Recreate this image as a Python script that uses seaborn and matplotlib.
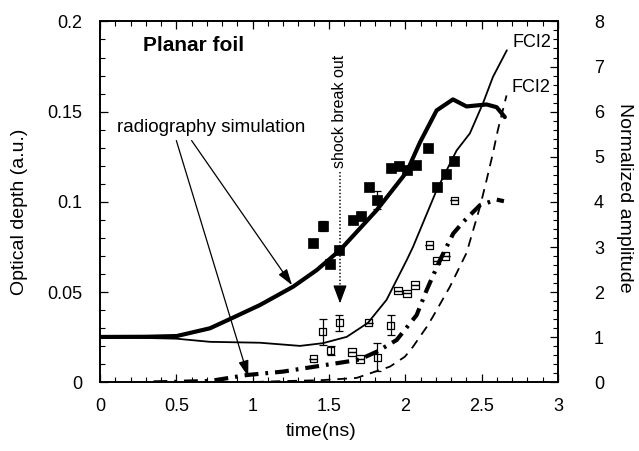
import matplotlib
matplotlib.use("Agg")
import matplotlib.pyplot as plt
from matplotlib.ticker import MultipleLocator, FuncFormatter
import seaborn as sns

# radiography simulation, optical depth (thick solid)
sim_t = [0.0, 0.3, 0.502, 0.72, 0.851, 1.048, 1.264, 1.419, 1.572, 1.812, 2.009,
         2.096, 2.205, 2.312, 2.401, 2.532, 2.598, 2.652]
sim_od = [0.0252, 0.0253, 0.0257, 0.030, 0.0351, 0.0429, 0.053, 0.0622, 0.0733,
          0.0954, 0.1166, 0.133, 0.1507, 0.1568, 0.1529, 0.154, 0.1525, 0.147]

# radiography simulation, lower curve (thick dash-dot)
sim2_t = [0.35, 0.72, 0.961, 1.198, 1.395, 1.616, 1.703, 1.812, 1.943, 2.074,
          2.14, 2.227, 2.314, 2.379, 2.489, 2.598, 2.646]
sim2_od = [0.0, 0.0008, 0.0041, 0.006, 0.0086, 0.0115, 0.0128, 0.017, 0.0235,
           0.0373, 0.0512, 0.0678, 0.0825, 0.0889, 0.0982, 0.1013, 0.1004]

# FCI2 normalized amplitude (thin solid)
fci_t = [0.0, 0.5, 0.72, 1.048, 1.31, 1.46, 1.616, 1.755, 1.877, 2.009, 2.05,
         2.205, 2.336, 2.423, 2.508, 2.574, 2.665]
fci_amp = [1.01, 0.97, 0.90, 0.88, 0.81, 0.87, 1.01, 1.32, 1.83, 2.71, 3.0,
           4.26, 5.14, 5.52, 6.18, 6.77, 7.36]

# FCI2 normalized amplitude (dashed)
fci2_t = [0.9, 1.2, 1.45, 1.681, 1.899, 1.997, 2.05, 2.14, 2.181, 2.292, 2.401,
          2.489, 2.532, 2.574, 2.606, 2.663]
fci2_amp = [0.0, 0.03, 0.05, 0.10, 0.35, 0.57, 0.79, 1.23, 1.46, 2.12, 2.87,
            3.89, 4.48, 5.08, 5.59, 6.36]

# measured optical depth, filled squares
meas1_t = [1.397, 1.458, 1.506, 1.567, 1.655, 1.707, 1.762, 1.816, 1.904, 1.956,
           2.012, 2.067, 2.146, 2.209, 2.264, 2.318]
meas1_od = [0.077, 0.0867, 0.0655, 0.0733, 0.0899, 0.0923, 0.108, 0.1009, 0.119,
            0.1199, 0.1175, 0.1203, 0.1301, 0.108, 0.1153, 0.1227]
meas1_err = [0, 0.0028, 0, 0, 0.001, 0, 0, 0.005, 0, 0, 0, 0, 0, 0, 0, 0]

# measured optical depth, open squares
meas2_t = [1.397, 1.458, 1.511, 1.567, 1.65, 1.703, 1.76, 1.816, 1.904, 1.953,
           2.012, 2.063, 2.157, 2.205, 2.264, 2.321]
meas2_od = [0.0132, 0.0281, 0.0176, 0.0331, 0.0169, 0.013, 0.0331, 0.0139, 0.0316,
            0.0508, 0.0493, 0.0539, 0.0761, 0.0674, 0.07, 0.1009]
meas2_err = [0, 0.0072, 0.0026, 0.0045, 0, 0, 0, 0.0077, 0.0055, 0, 0, 0, 0, 0, 0, 0]

sns.set_style("ticks")
plt.rcParams["font.family"] = ["Liberation Sans", "DejaVu Sans"]
plt.rcParams["lines.scale_dashes"] = False
for key in ("text.color", "axes.labelcolor", "xtick.color", "ytick.color", "axes.edgecolor"):
    plt.rcParams[key] = "black"

fig = plt.figure(figsize=(6.39, 4.51), dpi=100)
ax = fig.add_axes([0.1565, 0.152, 0.7167, 0.8005])
ax2 = ax.twinx()

# simulations on the optical depth axis
sns.lineplot(x=sim_t, y=sim_od, ax=ax, color="black", linewidth=3.0)
sns.lineplot(x=sim2_t, y=sim2_od, ax=ax, color="black", linewidth=3.0,
             linestyle=(0, (10, 5, 2, 5)))

# FCI2 curves on the amplitude axis
sns.lineplot(x=fci_t, y=fci_amp, ax=ax2, color="black", linewidth=1.3)
sns.lineplot(x=fci2_t, y=fci2_amp, ax=ax2, color="black", linewidth=1.3,
             linestyle=(0, (7, 5)))

# measurements
ax.errorbar(meas1_t, meas1_od, yerr=meas1_err, fmt="none", ecolor="black",
            elinewidth=0.9, capsize=3, capthick=0.9)
sns.scatterplot(x=meas1_t, y=meas1_od, ax=ax, marker="s", s=44, color="black",
                edgecolor="black", linewidth=0.5, zorder=4)
ax.errorbar(meas2_t, meas2_od, yerr=meas2_err, fmt="none", ecolor="black",
            elinewidth=0.9, capsize=3, capthick=0.9)
sns.scatterplot(x=meas2_t, y=meas2_od, ax=ax, marker="s", s=28, facecolor="none",
                edgecolor="black", linewidth=0.9, zorder=4)

ax.set_xlim(0, 3)
ax.set_ylim(0, 0.2)
ax2.set_ylim(0, 8)

fmt = FuncFormatter(lambda v, p: f"{v:g}")
ax.xaxis.set_major_locator(MultipleLocator(0.5))
ax.xaxis.set_minor_locator(MultipleLocator(0.1))
ax.yaxis.set_major_locator(MultipleLocator(0.05))
ax.yaxis.set_minor_locator(MultipleLocator(0.01))
ax2.yaxis.set_major_locator(MultipleLocator(1))
ax2.yaxis.set_minor_locator(MultipleLocator(0.2))
ax.xaxis.set_major_formatter(fmt)
ax.yaxis.set_major_formatter(fmt)
ax2.yaxis.set_major_formatter(fmt)

ax.tick_params(axis="x", which="both", direction="in", top=True, labelsize=13, pad=11)
ax.tick_params(axis="y", which="both", direction="in", right=False, labelsize=13, pad=13)
ax2.tick_params(axis="y", which="both", direction="in", labelsize=13, pad=26)
for a in (ax, ax2):
    a.tick_params(which="major", length=6, width=0.9)
    a.tick_params(which="minor", length=3.5, width=0.8)
    for sp in a.spines.values():
        sp.set_linewidth(1.2)
        sp.set_visible(True)

ax.set_xlabel("")
ax.set_ylabel("")
fig.text(321 / 639, 1 - 431 / 451, "time(ns)", ha="center", va="center", fontsize=14)
fig.text(20 / 639, 1 - 212 / 451, "Optical depth (a.u.)", rotation=90,
         ha="center", va="center", fontsize=14)
fig.text(625 / 639, 1 - 198 / 451, "Normalized amplitude", rotation=-90,
         ha="center", va="center", fontsize=14)

ax.text(0.616, 0.1867, "Planar foil", ha="center", va="center", fontsize=15,
        fontweight="bold")
ax.text(0.727, 0.1413, "radiography simulation", ha="center", va="center", fontsize=13.5)
ax.annotate("", xy=(1.258, 0.0539), xytext=(0.60, 0.134),
            arrowprops=dict(arrowstyle="-|>,head_length=0.7,head_width=0.22",
                            color="black", lw=0.9, shrinkA=0, shrinkB=0,
                            mutation_scale=14))
ax.annotate("", xy=(0.971, 0.0032), xytext=(0.50, 0.134),
            arrowprops=dict(arrowstyle="-|>,head_length=0.7,head_width=0.22",
                            color="black", lw=0.9, shrinkA=0, shrinkB=0,
                            mutation_scale=14))

ax.text(1.572, 0.150, "shock break out", rotation=90, ha="center", va="center",
        fontsize=11.5)
ax.plot([1.572, 1.572], [0.1164, 0.05], color="black", lw=1.1, linestyle=(0, (1, 1.5)))
ax.annotate("", xy=(1.572, 0.0438), xytext=(1.572, 0.052),
            arrowprops=dict(arrowstyle="-|>,head_length=0.8,head_width=0.3",
                            color="black", lw=0.9, shrinkA=0, shrinkB=0,
                            mutation_scale=14))

ax2.text(2.705, 7.53, "FCI2", ha="left", va="center", fontsize=13)
ax2.text(2.698, 6.54, "FCI2", ha="left", va="center", fontsize=13)

fig.savefig("out.png", dpi=100)
